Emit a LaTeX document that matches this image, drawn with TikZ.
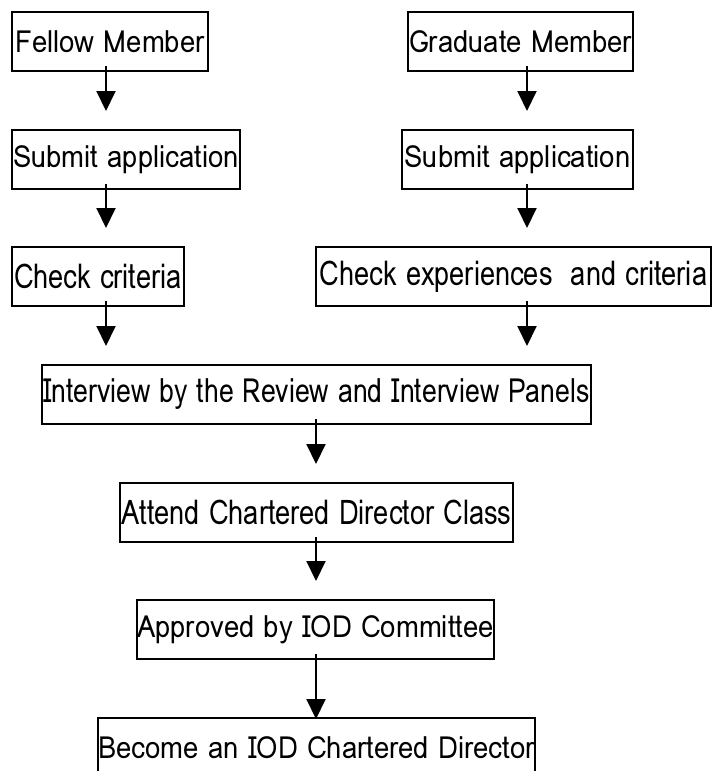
\documentclass[tikz,border=0pt]{standalone}
\usepackage{fontspec}
\setmainfont[FakeStretch=0.9]{Loma}
\newfontfamily\narrowfont[FakeStretch=0.8]{Loma}
\usetikzlibrary{arrows.meta,positioning}

\begin{document}
\begin{tikzpicture}[x=1pt, y=-1pt, >={Triangle[width=19pt,length=20pt]}, line width=2pt]
	\tikzstyle{box}=[draw=black, line width=2pt, minimum height=59pt, inner sep=0pt, font=\fontsize{30.5}{32}\selectfont]
	\tikzstyle{nbox}=[box, font=\fontsize{34}{36}\selectfont\narrowfont]
	\tikzstyle{flow}=[->, shorten <=-6pt, shorten >=18pt]
	\useasboundingbox (0,0) rectangle (712,771);
	\clip (0,0) rectangle (712,771);

	% left column
	\node[box, minimum width=196pt]  (fm) at (110,41.5)   {Fellow Member};
	\node[box, minimum width=228pt]  (sa1) at (126,159.5) {Submit application};
	\node[nbox, minimum width=172pt] (cc) at (98,276.5)   {Check criteria};
	% right column
	\node[box, minimum width=225pt]  (gm) at (520.5,41.5)   {Graduate Member};
	\node[box, minimum width=231pt]  (sa2) at (517.5,159.5) {Submit application};
	\node[nbox, minimum width=395pt] (ce) at (513.5,276.5)  {Check experiences\ \ and criteria};
	% common steps
	\node[nbox, minimum width=549pt, font=\fontsize{33.3}{36}\selectfont\narrowfont] (iv) at (316.5,394.5) {Interview by the Review and Interview Panels};
	\node[nbox, minimum width=393pt] (ac) at (316.5,512.5) {Attend Chartered Director Class};
	\node[box, minimum width=355pt]  (ap) at (315.5,629.5) {Approved by IOD Committee};
	\node[box, minimum width=429pt]  (bc) at (316.5,747.5) {Become an IOD Chartered Director};

	\coordinate (lx) at (106,0);
	\coordinate (rx) at (527,0);
	\coordinate (mx) at (316,0);

	\draw[flow] (fm.south -| lx) -- (sa1.north -| lx);
	\draw[flow] (sa1.south -| lx) -- (cc.north -| lx);
	\draw[flow] (cc.south -| lx) -- (iv.north -| lx);
	\draw[flow] (gm.south -| rx) -- (sa2.north -| rx);
	\draw[flow] (sa2.south -| rx) -- (ce.north -| rx);
	\draw[flow] (ce.south -| rx) -- (iv.north -| rx);
	\draw[flow] (iv.south -| mx) -- (ac.north -| mx);
	\draw[flow] (ac.south -| mx) -- (ap.north -| mx);
	\draw[flow, shorten >=-2pt] (ap.south -| mx) -- (bc.north -| mx);
\end{tikzpicture}
\end{document}
